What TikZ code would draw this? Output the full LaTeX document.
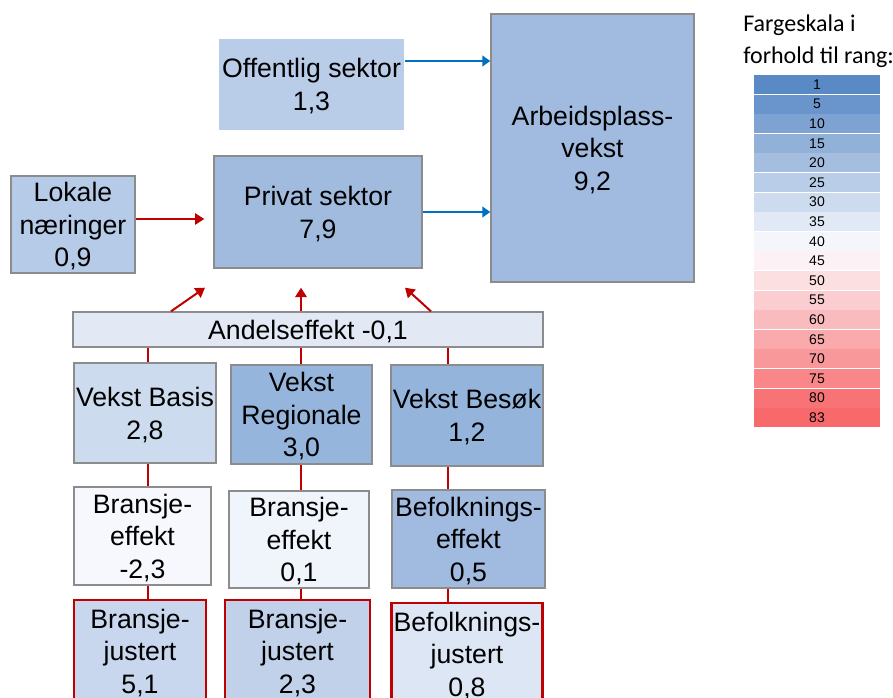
\documentclass[tikz,border=0pt]{standalone}
\usepackage{fontspec}
\setmainfont{Liberation Sans}
\newfontfamily\legendfont{Carlito}
\usetikzlibrary{positioning,calc,arrows.meta}

\definecolor{darkred}{RGB}{192,0,0}
\definecolor{flowblue}{RGB}{0,112,192}
\definecolor{edgegray}{RGB}{140,140,140}
\definecolor{scalelow}{RGB}{90,138,198}
\definecolor{scalemid}{RGB}{252,252,255}
\definecolor{scalehigh}{RGB}{248,105,107}
\definecolor{offfill}{RGB}{185,205,233}
\definecolor{arbfill}{RGB}{160,187,223}
\definecolor{privfill}{RGB}{160,187,222}
\definecolor{lokfill}{RGB}{182,203,232}
\definecolor{andelfill}{RGB}{226,233,245}
\definecolor{basisfill}{RGB}{205,219,238}
\definecolor{regfill}{RGB}{150,181,220}
\definecolor{besfill}{RGB}{149,180,219}
\definecolor{beafill}{RGB}{246,248,253}
\definecolor{bebfill}{RGB}{240,244,251}
\definecolor{bfefill}{RGB}{160,187,223}
\definecolor{bjafill}{RGB}{200,215,237}
\definecolor{bjbfill}{RGB}{193,209,234}
\definecolor{bfjfill}{RGB}{221,230,244}

\begin{document}
\begin{tikzpicture}
	[x=0.75pt,y=-0.75pt,
	block/.style 2 args={rectangle,draw=edgegray,line width=1pt,inner sep=0pt,align=center,
		font=\fontsize{20}{24.5}\selectfont,minimum width=#1*0.75pt,minimum height=#2*0.75pt,
		text depth=-1.5pt},
	adjusted/.style={draw=darkred,line width=2pt},
	link/.style={draw=darkred,line width=1.5pt},
	push/.style={link,-{Triangle[length=7pt,width=8.5pt]}},
	flow/.style={draw=flowblue,line width=1.5pt,-{Triangle[length=6pt,width=8pt]}},
	cell/.style={rectangle,inner sep=0pt,minimum width=94.5pt,minimum height=14.3pt,
		font=\fontsize{10.5}{12}\selectfont}]
	\useasboundingbox (0,0) rectangle (893,697);
	\clip (0,0) rectangle (893,697);

	\node [block={185}{91},draw=none,fill=offfill] (off) at (311.5,84.5) {Offentlig sektor\\1,3};
	\node [block={203}{268},fill=arbfill] (arb) at (592.5,148) {Arbeidsplass-\\vekst\\9,2};
	\node [block={208}{112},fill=privfill] (priv) at (318,212) {Privat sektor\\7,9};
	\node [block={124}{97},fill=lokfill] (lok) at (73,224.5) {Lokale\\næringer\\0,9};
	\node [block={470}{35},fill=andelfill] (andel) at (308,329.5) {Andelseffekt -0,1};

	\node [block={142}{100},fill=basisfill] (vb) at (145,413) {Vekst Basis\\2,8};
	\node [block={141}{99},fill=regfill] (vr) at (301.5,414.5) {Vekst\\Regionale\\3,0};
	\node [block={152}{101},fill=besfill] (vbe) at (467,415.5) {Vekst Besøk\\1,2};

	\node [block={137}{98},fill=beafill] (bea) at (142.5,536) {Bransje-\\effekt\\-2,3};
	\node [block={140}{97},fill=bebfill] (beb) at (299,539.5) {Bransje-\\effekt\\0,1};
	\node [block={153}{98},fill=bfefill] (bfe) at (468.5,539) {Befolknings-\\effekt\\0,5};

	\node [block={132}{102},adjusted,fill=bjafill] (bja) at (140,651) {Bransje-\\justert\\5,1};
	\node [block={145}{102},adjusted,fill=bjbfill] (bjb) at (297.5,651) {Bransje-\\justert\\2,3};
	\node [block={151}{102},adjusted,fill=bfjfill] (bfj) at (467,654) {Befolknings-\\justert\\0,8};

	% vertical lanes under Andelseffekt
	\coordinate (lane1) at (148,0);
	\coordinate (lane2) at (301,0);
	\coordinate (lane3) at (448,0);

	\draw [link] (andel.south -| lane1) -- (vb.north -| lane1);
	\draw [link] (vb.south -| lane1) -- (bea.north -| lane1);
	\draw [link] (bea.south -| lane1) -- (bja.north -| lane1);
	\draw [link] (andel.south -| lane2) -- (vr.north -| lane2);
	\draw [link] (vr.south -| lane2) -- (beb.north -| lane2);
	\draw [link] (beb.south -| lane2) -- (bjb.north -| lane2);
	\draw [link] (andel.south -| lane3) -- (vbe.north -| lane3);
	\draw [link] (vbe.south -| lane3) -- (bfe.north -| lane3);
	\draw [link] (bfe.south -| lane3) -- (bfj.north -| lane3);

	\draw [push] ($(lok.east)+(0,-5.5)$) -- ($(lok.east -| priv.west)+(-9,-5.5)$);
	\draw [push] ($(andel.north)+(-137,0)$) -- ($(priv.south)+(-113,19)$);
	\draw [push] (andel.north -| lane2) -- ($(priv.south -| lane2)+(0,19)$);
	\draw [push] ($(andel.north)+(123,0)$) -- ($(priv.south)+(87,19)$);

	\draw [flow] ($(off.east)+(0,-23.5)$) -- ($(off.east -| arb.west)+(0,-23.5)$);
	\draw [flow] (priv.east) -- (priv.east -| arb.west);

	% colour scale
	\node [anchor=north west,inner sep=0pt,align=left,
		font=\legendfont\fontsize{18}{24}\selectfont] (title) at (743,14.5) {Fargeskala i\\forhold til rang:};
	\node [cell,fill=scalelow] (c1) at (817,84.5) {1};
	\node [cell,fill=scalemid!10!scalelow] (c5) [below=0pt of c1] {5};
	\node [cell,fill=scalemid!22!scalelow] (c10) [below=0pt of c5] {10};
	\node [cell,fill=scalemid!34!scalelow] (c15) [below=0pt of c10] {15};
	\node [cell,fill=scalemid!46!scalelow] (c20) [below=0pt of c15] {20};
	\node [cell,fill=scalemid!59!scalelow] (c25) [below=0pt of c20] {25};
	\node [cell,fill=scalemid!71!scalelow] (c30) [below=0pt of c25] {30};
	\node [cell,fill=scalemid!83!scalelow] (c35) [below=0pt of c30] {35};
	\node [cell,fill=scalemid!95!scalelow] (c40) [below=0pt of c35] {40};
	\node [cell,fill=scalehigh!7!scalemid] (c45) [below=0pt of c40] {45};
	\node [cell,fill=scalehigh!20!scalemid] (c50) [below=0pt of c45] {50};
	\node [cell,fill=scalehigh!32!scalemid] (c55) [below=0pt of c50] {55};
	\node [cell,fill=scalehigh!44!scalemid] (c60) [below=0pt of c55] {60};
	\node [cell,fill=scalehigh!56!scalemid] (c65) [below=0pt of c60] {65};
	\node [cell,fill=scalehigh!68!scalemid] (c70) [below=0pt of c65] {70};
	\node [cell,fill=scalehigh!80!scalemid] (c75) [below=0pt of c70] {75};
	\node [cell,fill=scalehigh!93!scalemid] (c80) [below=0pt of c75] {80};
	\node [cell,fill=scalehigh] (c83) [below=0pt of c80] {83};
\end{tikzpicture}
\end{document}
